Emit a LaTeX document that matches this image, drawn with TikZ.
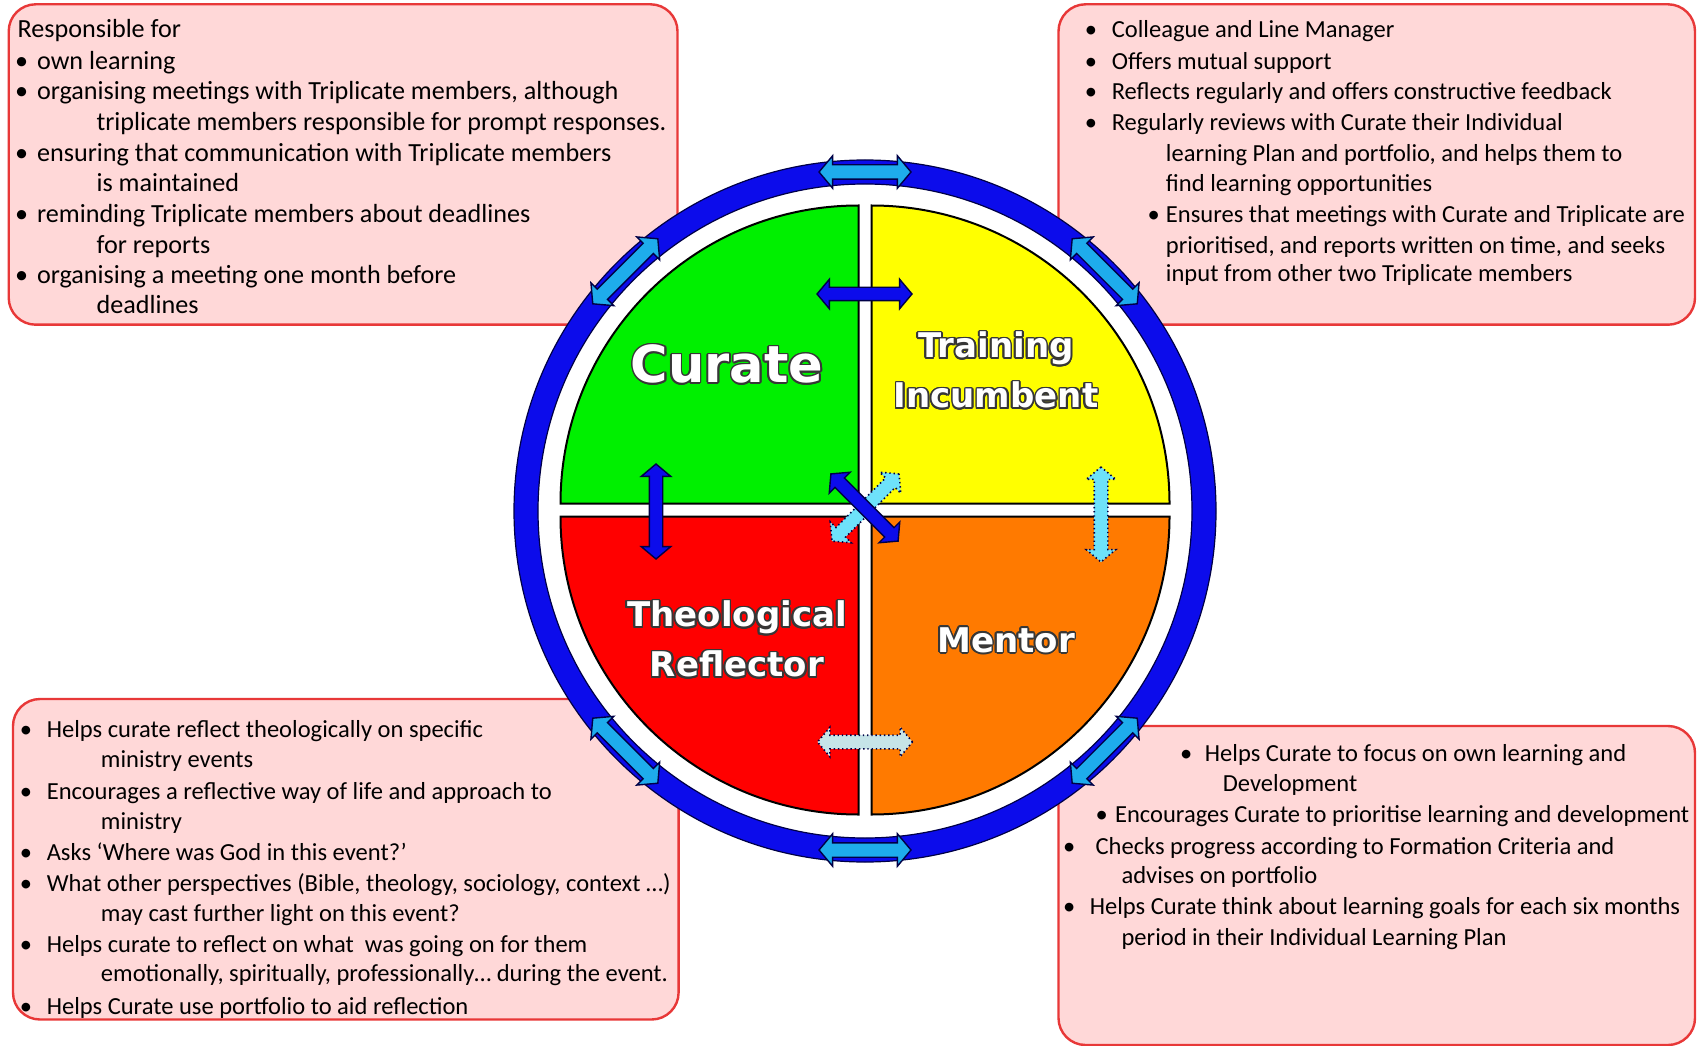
\documentclass[tikz,border=0pt]{standalone}
\usepackage{fontspec}
\setmainfont{Carlito}
\newfontfamily\labelfont{DejaVu Sans}
\usepackage{contour}
\contourlength{1.2pt}
\usetikzlibrary{calc,shapes.arrows}

\definecolor{boxfill}{RGB}{255,216,216}
\definecolor{boxline}{RGB}{232,56,56}
\definecolor{ringblue}{RGB}{12,12,235}
\definecolor{skyarrow}{RGB}{30,172,236}
\definecolor{navyline}{RGB}{0,0,70}
\definecolor{curgreen}{RGB}{0,240,0}
\definecolor{tiyellow}{RGB}{255,255,0}
\definecolor{trred}{RGB}{255,0,0}
\definecolor{mentorange}{RGB}{255,122,0}
\definecolor{lightcyan}{RGB}{110,226,250}
\definecolor{palecyan}{RGB}{198,228,232}
\definecolor{lbloutline}{RGB}{55,55,55}

\tikzset{
  box/.style={draw=boxline, fill=boxfill, line width=0.6mm, rounded corners=6.75mm},
  quad/.style={draw=black, line width=0.5mm},
  ringarrow/.style={double arrow, draw=navyline, fill=skyarrow, line width=0.35mm,
    inner sep=0pt, text height=3.25mm, text depth=0pt, minimum height=23mm,
    double arrow head extend=2.25mm, double arrow tip angle=100},
  darrow/.style={double arrow, draw=navyline, fill=ringblue, line width=0.35mm,
    inner sep=0pt, text height=3mm, text depth=0pt, minimum height=23.75mm,
    double arrow head extend=2mm, double arrow tip angle=100},
  dotarrow/.style={darrow, dotted, line width=0.4mm},
  lbl/.style={font=\labelfont\bfseries\fontsize{24.2}{35.6}\selectfont,
    text=white, align=center, inner sep=0pt},
  txt/.style={font=\fontsize{17.45}{22}\selectfont, inner sep=0pt, anchor=base west,
    yshift=-0.5mm},
  bigtxt/.style={txt, font=\fontsize{18.6}{22}\selectfont},
  dot/.style={txt, anchor=base},
  bigdot/.style={bigtxt, anchor=base}
}

\begin{document}
\begin{tikzpicture}[x=0.25mm,y=-0.25mm]
\useasboundingbox (0,0) rectangle (1697,1046);
\fill[white] (0,0) rectangle (1697,1046);

% text panels behind the wheel
\draw[box] (8.7,4.3) rectangle (677.5,324.7);
\draw[box] (1058.5,4.3) rectangle (1695,324.7);
\draw[box] (13,699) rectangle (678.6,1019.5);
\draw[box] (1058.5,726) rectangle (1695,1045);

% wheel
\coordinate (c) at (865,511);
\fill[white] (c) circle[radius=351];
\draw[ringblue, line width=6mm] (c) circle[radius=339];
\draw[navyline, line width=0.3mm] (c) circle[radius=351] (c) circle[radius=327];

\draw[quad, fill=curgreen] (858.5,503.5) -- ++(-298,0)
  arc[start angle=180, end angle=270, radius=298] -- cycle;
\draw[quad, fill=tiyellow] (871.5,503.5) -- ++(0,-298)
  arc[start angle=270, end angle=360, radius=298] -- cycle;
\draw[quad, fill=trred] (858.5,516.5) -- ++(-298,0)
  arc[start angle=180, end angle=90, radius=298] -- cycle;
\draw[quad, fill=mentorange] (871.5,516.5) -- ++(298,0)
  arc[start angle=0, end angle=90, radius=298] -- cycle;

% arrows round the ring
\foreach \a [count=\i] in {270,315,45,90,135,225}
  \node[ringarrow, rotate=90-\a] (ra\i) at ($(c)+(\a:339)$) {};

% arrows between the roles
\node[darrow] (topx) at (864.5,294) {};
\node[darrow, rotate=90] (leftx) at (656,511.5) {};
\node[dotarrow, fill=lightcyan, rotate=45] (crossa) at (865.5,507.5) {};
\node[darrow, rotate=-45] (crossb) at (864.5,507.5) {};
\node[dotarrow, fill=lightcyan, rotate=90] (rightx) at (1101,514.5) {};
\node[dotarrow, fill=palecyan] (botx) at (865,742) {};

% role names
\node[lbl, font=\labelfont\bfseries\fontsize{36.3}{40}\selectfont] (curate) at (727,365)
  {\contour{lbloutline}{Curate}};
\node[lbl] (incumbent) at (996,371)
  {\contour{lbloutline}{Training}\\\contour{lbloutline}{Incumbent}};
\node[lbl] (reflector) at (737,640)
  {\contour{lbloutline}{Theological}\\\contour{lbloutline}{Reflector}};
\node[lbl] (mentor) at (1006,641) {\contour{lbloutline}{Mentor}};

% curate
\foreach \x/\y/\t [count=\i] in {
  17.3/36/{Responsible for},
  36.8/67.5/{own learning},
  36.8/98/{organising meetings with Triplicate members, although},
  96.3/129/{triplicate members responsible for prompt responses.},
  36.8/159.5/{ensuring that communication with Triplicate members},
  96.3/190/{is maintained},
  36.8/221/{reminding Triplicate members about deadlines},
  96.3/251.5/{for reports},
  36.8/282/{organising a meeting one month before},
  96.3/312/{deadlines}}
  \node[bigtxt] (cu\i) at (\x,\y) {\t};
\foreach \y [count=\i] in {67.5,98,159.5,221,282}
  \node[bigdot] (cub\i) at (21.6,\y) {\textbullet};

% training incumbent
\foreach \x/\y/\t [count=\i] in {
  1111.5/36/{Colleague and Line Manager},
  1111.5/67.5/{Offers mutual support},
  1111.5/98/{Reflects regularly and offers constructive feedback},
  1111.5/129/{Regularly reviews with Curate their Individual},
  1165.7/159.5/{learning Plan and portfolio, and helps them to},
  1165.7/190/{find learning opportunities},
  1165.7/221/{Ensures that meetings with Curate and Triplicate are},
  1165.7/251.5/{prioritised, and reports written on time, and seeks},
  1165.7/280/{input from other two Triplicate members}}
  \node[txt] (ti\i) at (\x,\y) {\t};
\foreach \x/\y [count=\i] in {1091/36,1091/67.5,1091/98,1091/129,1153.8/221}
  \node[dot] (tib\i) at (\x,\y) {\textbullet};

% theological reflector
\foreach \x/\y/\t [count=\i] in {
  46.5/735.3/{Helps curate reflect theologically on specific},
  100.7/765.6/{ministry events},
  46.5/797/{Encourages a reflective way of life and approach to},
  100.7/827.3/{ministry},
  46.5/858.7/{Asks ‘Where was God in this event?’},
  46.5/889/{What other perspectives (Bible, theology, sociology, context …)},
  100.7/919.3/{may cast further light on this event?},
  46.5/950.7/{Helps curate to reflect on what\ \ was going on for them},
  100.7/979.9/{emotionally, spiritually, professionally… during the event.},
  46.5/1012.4/{Helps Curate use portfolio to aid reflection}}
  \node[txt] (tr\i) at (\x,\y) {\t};
\foreach \y [count=\i] in {735.3,797,858.7,889,950.7,1012.4}
  \node[dot] (trb\i) at (26,\y) {\textbullet};

% mentor
\foreach \x/\y/\t [count=\i] in {
  1204.6/759.1/{Helps Curate to focus on own learning and},
  1222.6/789.4/{Development},
  1114.8/820.8/{Encourages Curate to prioritise learning and development},
  1095.3/852.2/{Checks progress according to Formation Criteria and},
  1121.3/881.4/{advises on portfolio},
  1089.5/912.8/{Helps Curate think about learning goals for each six months},
  1121.3/943.1/{period in their Individual Learning Plan}}
  \node[txt] (me\i) at (\x,\y) {\t};
\foreach \x/\y [count=\i] in {1186.2/759.1,1101.8/820.8,1069.3/852.2,1069.3/912.8}
  \node[dot] (meb\i) at (\x,\y) {\textbullet};
\end{tikzpicture}
\end{document}
